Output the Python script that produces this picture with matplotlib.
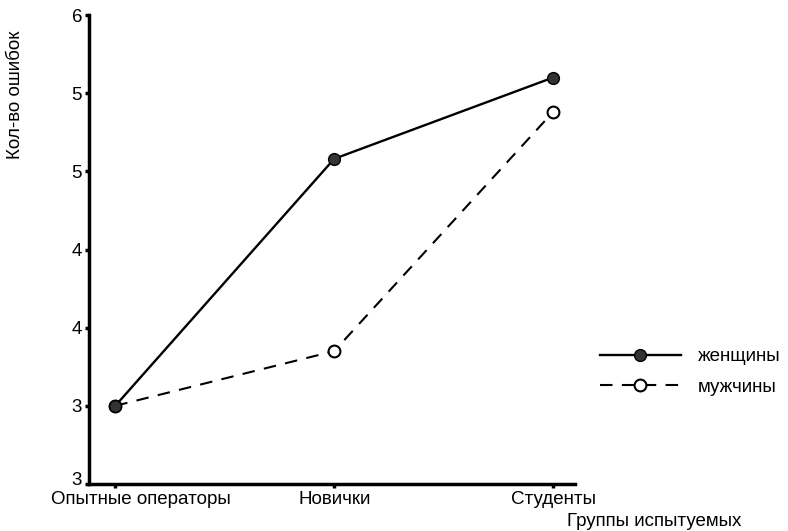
import matplotlib
matplotlib.use("Agg")
import matplotlib.pyplot as plt
import matplotlib.transforms as mtransforms

categories = ["Опытные операторы", "Новички", "Студенты"]
women = [3.0, 4.58, 5.1]
men = [3.0, 3.35, 4.88]
ytick_vals = [2.5, 3.0, 3.5, 4.0, 4.5, 5.0, 5.5]
ytick_labels = ["3", "3", "4", "4", "5", "5", "6"]

plt.rcParams['font.family'] = ['Liberation Sans', 'DejaVu Sans']
FS = 13.5

fig = plt.figure(figsize=(7.88, 5.31), dpi=100)
ax = fig.add_axes([89/788, 1-484/531, (575-89)/788, (484-15)/531])

x = list(range(len(categories)))
ax.plot(x, men, color='black', lw=1.5, dashes=(6, 4.5), marker='o', ms=8.5,
        mfc='white', mec='black', mew=1.5, label='мужчины', zorder=2)
ax.plot(x, women, color='black', lw=1.7, marker='o', ms=8.5,
        mfc='#333333', mec='black', mew=1, label='женщины', zorder=3)

ax.set_xlim(-0.12, 2.10)
ax.set_ylim(2.5, 5.5)
ax.set_xticks(x)
ax.set_xticklabels(categories, fontsize=FS)
ax.set_yticks(ytick_vals)
ax.set_yticklabels(ytick_labels, fontsize=FS)
for s in ['top', 'right']:
    ax.spines[s].set_visible(False)
for s in ['left', 'bottom']:
    ax.spines[s].set_linewidth(2.5)
ax.tick_params(axis='both', length=3, width=2.5, pad=2)

# bottom y label sits slightly above its tick in the reference
lbl = ax.get_yticklabels()[0]
lbl.set_transform(lbl.get_transform() + mtransforms.ScaledTranslation(0, 6/100, fig.dpi_scale_trans))
# first category label is shifted right in the reference
xl = ax.get_xticklabels()[0]
xl.set_transform(xl.get_transform() + mtransforms.ScaledTranslation(26/100, 0, fig.dpi_scale_trans))

fig.text(15/788, 1-95/531, "Кол-во ошибок", rotation=90, ha='center', va='center', fontsize=FS)
fig.text(654/788, 1-522/531, "Группы испытуемых", ha='center', va='center', fontsize=FS)

h, l = ax.get_legend_handles_labels()
fig.legend([h[1], h[0]], [l[1], l[0]], loc='center left', bbox_to_anchor=(583/788, 1-372/531),
           frameon=False, fontsize=FS, handlelength=4.3, handletextpad=0.9, labelspacing=0.7)

fig.savefig("out.png", dpi=100)
